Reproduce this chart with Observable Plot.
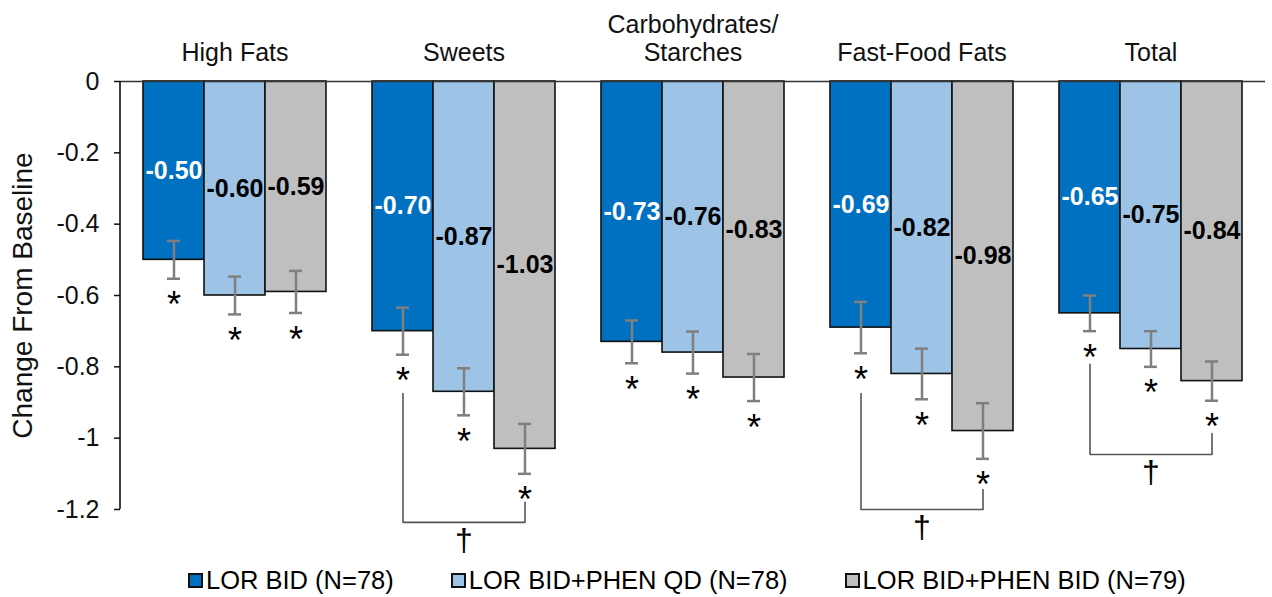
<!DOCTYPE html>
<html>
<head>
<meta charset="utf-8">
<script src="https://cdn.jsdelivr.net/npm/d3@7"></script>
<script src="https://cdn.jsdelivr.net/npm/@observablehq/plot@0.6"></script>
<style>
  html, body { margin: 0; padding: 0; background: #fff; }
  #chart svg { display: block; overflow: visible; }
  #legend { display: flex; align-items: center; padding-left: 188px; height: 36px; margin-top: 0px;
            font-family: "Liberation Sans", Arial, sans-serif; font-size: 25.5px; color: #000; }
  .item { display: flex; align-items: center; margin-right: 57px; }
  .sw { width: 15px; height: 15px; box-sizing: border-box; border: 2px solid #111; margin-right: 3px; }
</style>
</head>
<body>
<div id="chart"></div>
<div id="legend"></div>
<script>
const categories = ["High Fats", "Sweets", "Carbohydrates/\nStarches", "Fast-Food Fats", "Total"];
const series = ["LOR BID (N=78)", "LOR BID+PHEN QD (N=78)", "LOR BID+PHEN BID (N=79)"];
const colors = ["#0070C0", "#9DC3E6", "#BFBFBF"];

const lorBid      = [-0.50, -0.70, -0.73, -0.69, -0.65];
const lorPhenQd   = [-0.60, -0.87, -0.76, -0.82, -0.75];
const lorPhenBid  = [-0.59, -1.03, -0.83, -0.98, -0.84];

const lorBidErr     = [0.053, 0.066, 0.060, 0.072, 0.050];
const lorPhenQdErr  = [0.053, 0.066, 0.059, 0.071, 0.050];
const lorPhenBidErr = [0.059, 0.070, 0.066, 0.078, 0.055];

const yTicks = [0, -0.2, -0.4, -0.6, -0.8, -1, -1.2];

// significance brackets (dagger) between LOR BID and LOR BID+PHEN BID
const bracketCategories = ["Sweets", "Fast-Food Fats", "Total"];
const bracketLeftTop    = [-0.875, -0.875, -0.793];
const bracketBottom     = [-1.236, -1.200, -1.046];
const bracketRightTop   = [-1.180, -1.144, -0.987];

const valuesBySeries = [lorBid, lorPhenQd, lorPhenBid];
const errBySeries = [lorBidErr, lorPhenQdErr, lorPhenBidErr];

const data = categories.flatMap((c, i) => series.map((s, j) => ({
  category: c, series: s, idx: j, value: valuesBySeries[j][i], err: errBySeries[j][i]
})));

const bracketPts = bracketCategories.flatMap((c, i) => [
  {category: c, series: series[0], y: bracketLeftTop[i]},
  {category: c, series: series[0], y: bracketBottom[i]},
  {category: c, series: series[2], y: bracketBottom[i]},
  {category: c, series: series[2], y: bracketRightTop[i]}
]);
const daggers = bracketCategories.map((c, i) => ({category: c, series: series[1], y: bracketBottom[i]}));

const fmt = d => String(+d.toFixed(1));
const font = "'Liberation Sans', Arial, sans-serif";

const plot = Plot.plot({
  width: 1272,
  height: 562,
  marginLeft: 120,
  marginRight: 7,
  marginTop: 81,
  marginBottom: 53,
  style: {fontFamily: font, background: "white", color: "black", overflow: "visible"},
  fx: {domain: categories, padding: 0},
  x: {domain: series, paddingInner: 0, paddingOuter: 0.377, axis: null},
  y: {domain: [-1.2, 0]},
  color: {domain: series, range: colors},
  marks: [
    Plot.barY(data, {fx: "category", x: "series", y: "value", fill: "series", stroke: "#111", strokeWidth: 1.6}),
    Plot.ruleY([0], {stroke: "#333", strokeWidth: 1.6}),
    Plot.ruleX(data, {fx: "category", x: "series", y1: d => d.value - d.err, y2: d => d.value + d.err, stroke: "#7f7f7f", strokeWidth: 2.5}),
    Plot.tickY(data, {fx: "category", x: "series", y: d => d.value - d.err, stroke: "#7f7f7f", strokeWidth: 2.5, insetLeft: 24, insetRight: 24}),
    Plot.tickY(data, {fx: "category", x: "series", y: d => d.value + d.err, stroke: "#7f7f7f", strokeWidth: 2.5, insetLeft: 24, insetRight: 24}),
    Plot.text(data, {fx: "category", x: "series", y: d => d.value / 2, text: d => d.value.toFixed(2),
      fill: d => d.idx === 0 ? "white" : "black", fontWeight: "bold", fontSize: 25}),
    Plot.text(data, {fx: "category", x: "series", y: d => d.value - d.err, text: () => "*",
      fill: "black", fontSize: 36, lineAnchor: "middle", dy: 27}),
    Plot.line(bracketPts, {fx: "category", x: "series", y: "y", z: "category", stroke: "#555", strokeWidth: 1.6}),
    Plot.text(daggers, {fx: "category", x: "series", y: "y", text: () => "†", fill: "black", fontSize: 32, lineAnchor: "middle", dy: 18}),
    Plot.axisFx({anchor: "top", tickSize: 0, tickPadding: 21, fontSize: 25, lineHeight: 1.12, label: null, color: "#111"}),
    Plot.axisY({ticks: yTicks, tickFormat: fmt, tickSize: 6, tickPadding: 15, fontSize: 25, label: null, stroke: "#111", strokeWidth: 1.5, color: "#111"}),
    Plot.text(["Change From Baseline"], {fx: [categories[0]], frameAnchor: "left", dx: -97, rotate: -90, textAnchor: "middle", text: d => d, fontSize: 28, fill: "#111"})
  ]
});

const yScale = plot.scale("y");
d3.select(plot).append("line")
  .attr("x1", 120).attr("x2", 120)
  .attr("y1", yScale.apply(0)).attr("y2", yScale.apply(-1.2))
  .attr("stroke", "#111").attr("stroke-width", 1.6);

document.getElementById("chart").appendChild(plot);

const legend = document.getElementById("legend");
series.forEach((s, i) => {
  const item = document.createElement("div");
  item.className = "item";
  const sw = document.createElement("div");
  sw.className = "sw";
  sw.style.background = colors[i];
  const t = document.createElement("span");
  t.textContent = s;
  item.appendChild(sw);
  item.appendChild(t);
  legend.appendChild(item);
});
</script>
</body>
</html>
